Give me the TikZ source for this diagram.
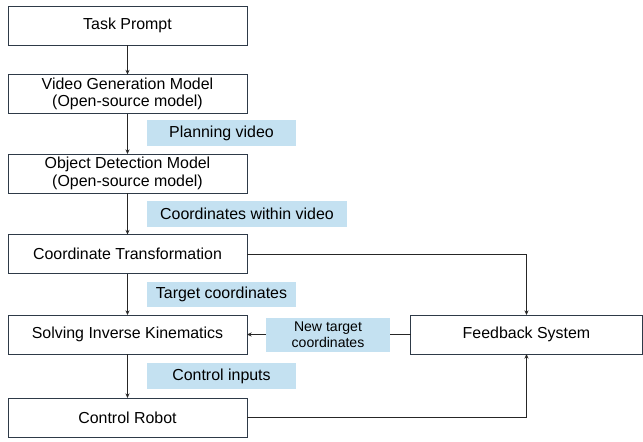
\documentclass[tikz,border=0pt]{standalone}
\usepackage{fontspec}
\setmainfont{Liberation Sans}
\usetikzlibrary{arrows.meta}
\definecolor{boxline}{HTML}{2E3A48}
\definecolor{tagblue}{HTML}{C4E1F1}
\begin{document}
\begin{tikzpicture}[
    x=0.03cm, y=-0.03cm,
    box/.style={rectangle, draw=boxline, fill=white, line width=0.8pt, minimum width=7.17cm, minimum height=1.17cm, align=center, inner sep=1pt, outer sep=0pt, font=\fontsize{13.6}{15}\selectfont},
    arrow/.style={-{Stealth[length=4pt,width=3.5pt]}, line width=0.7pt, black!85},
    tag/.style={rectangle, fill=tagblue, minimum width=4.47cm, minimum height=0.78cm, align=center, inner sep=1pt, font=\fontsize{13.6}{15}\selectfont}
]
\useasboundingbox (0,0) rectangle (643,441);

% Pipeline
\node[box] (prompt) at (127.5,25.5) {Task Prompt};
\node[box] (videogen) at (127.5,94) {Video Generation Model\\(Open-source model)};
\node[box] (detect) at (127.5,173.5) {Object Detection Model\\(Open-source model)};
\node[box] (transform) at (127.5,254) {Coordinate Transformation};
\node[box] (ik) at (127.5,334.5) {Solving Inverse Kinematics};
\node[box] (robot) at (127.5,417.5) {Control Robot};

% Feedback
\node[box, minimum width=6.96cm] (feedback) at (526.5,334.5) {Feedback System};

% Arrows
\draw[arrow] (prompt) -- (videogen);
\draw[arrow] (videogen) -- (detect);
\draw[arrow] (detect) -- (transform);
\draw[arrow] (transform) -- (ik);
\draw[arrow] (ik) -- (robot);
\draw[arrow] (transform.east) -| (feedback.north);
\draw[arrow] (robot.east) -| (feedback.south);
\draw[arrow] (feedback.west) -- (ik.east);

% Labels
\node[tag] (planning) at (221.5,133) {Planning video};
\node[tag, minimum width=6cm] (coords) at (247,214) {Coordinates within video};
\node[tag, minimum height=0.75cm] (target) at (221.5,294.5) {Target coordinates};
\node[tag] (inputs) at (221.5,376) {Control inputs};
\node[tag, minimum width=3.72cm, minimum height=1.02cm, font=\fontsize{12}{14}\selectfont] (newtarget) at (328,335) {New target\\coordinates};

\end{tikzpicture}
\end{document}
